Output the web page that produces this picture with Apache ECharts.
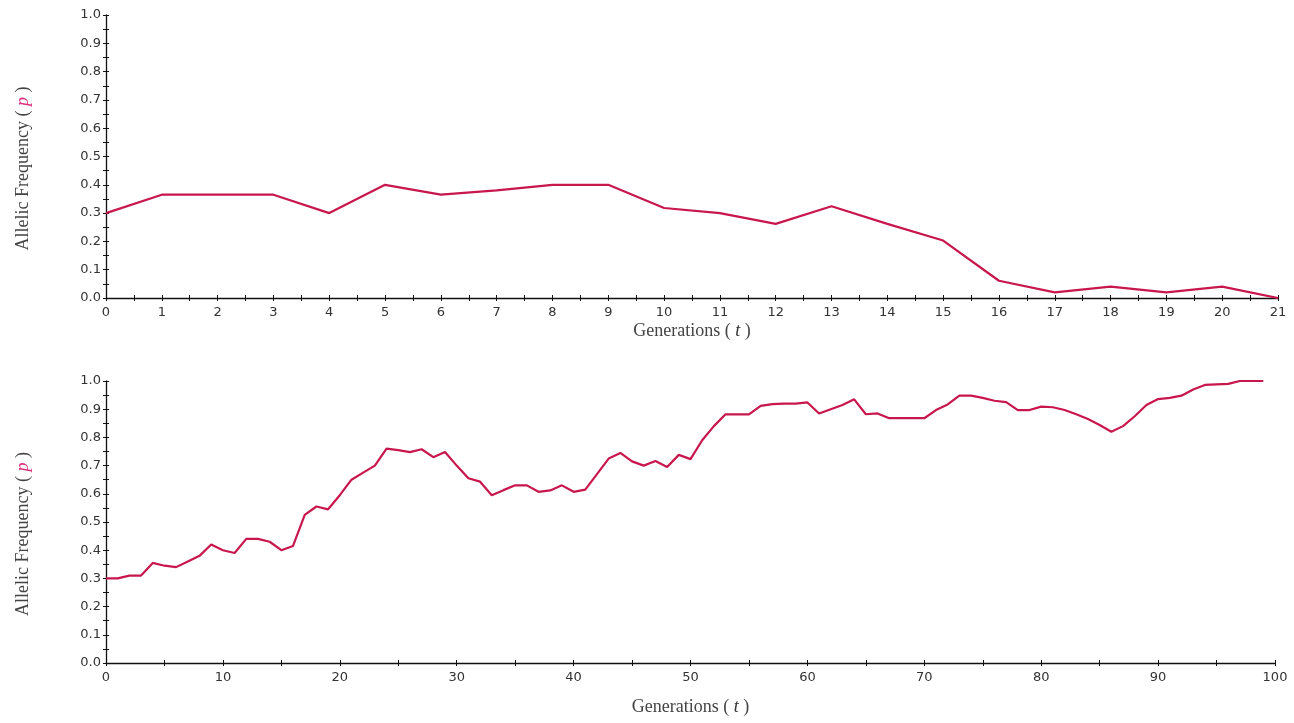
<!DOCTYPE html>
<html>
<head>
<meta charset="utf-8">
<script src="https://cdn.jsdelivr.net/npm/echarts@6/dist/echarts.min.js"></script>
<style>
  html, body { margin: 0; padding: 0; background: #fff; }
  #chart { width: 1294px; height: 723px; }
</style>
</head>
<body>
<div id="chart"></div>
<script>
// run 1: 21 generations
const topGenerations = [0, 1, 2, 3, 4, 5, 6, 7, 8, 9, 10, 11, 12, 13, 14, 15, 16, 17, 18, 19, 20, 21];
const topFreq = [0.30, 0.365, 0.365, 0.365, 0.30, 0.40, 0.365, 0.38, 0.40, 0.40, 0.318,
  0.30, 0.262, 0.324, 0.262, 0.203, 0.061, 0.02, 0.04, 0.02, 0.04, 0.0];

// run 2: 100 generations
const bottomFreq = [
  0.30, 0.30, 0.31, 0.31, 0.355, 0.345, 0.34, 0.36, 0.38, 0.42,
  0.40, 0.39, 0.44, 0.44, 0.43, 0.40, 0.415, 0.525, 0.555, 0.545,
  0.595, 0.65, 0.675, 0.70, 0.76, 0.755, 0.748, 0.758, 0.73, 0.748,
  0.70, 0.655, 0.643, 0.595, 0.613, 0.63, 0.63, 0.607, 0.612, 0.63,
  0.607, 0.615, 0.67, 0.725, 0.745, 0.715, 0.70, 0.716, 0.695, 0.738,
  0.723, 0.79, 0.84, 0.882, 0.882, 0.882, 0.912, 0.918, 0.92, 0.92,
  0.924, 0.885, 0.90, 0.915, 0.935, 0.882, 0.885, 0.868, 0.868, 0.868,
  0.868, 0.897, 0.917, 0.948, 0.948, 0.94, 0.93, 0.925, 0.897, 0.897,
  0.909, 0.907, 0.897, 0.882, 0.865, 0.844, 0.82, 0.84, 0.875, 0.915,
  0.936, 0.94, 0.948, 0.97, 0.986, 0.988, 0.99, 1.0, 1.0, 1.0
];
const bottomGenerations = bottomFreq.map((v, i) => i);

const yName = 'Allelic Frequency ( {p|p} )';
const xName = 'Generations ( {t|t} )';

const chart = echarts.init(document.getElementById('chart'), null, { renderer: 'canvas' });

const tickFont = { color: '#333', fontFamily: 'DejaVu Sans', fontSize: 13 };
const nameFont = {
  color: '#444', fontFamily: 'Liberation Serif', fontSize: 18,
  rich: {
    p: { color: '#d8307a', fontStyle: 'italic', fontFamily: 'Liberation Serif', fontSize: 18 },
    t: { color: '#333', fontStyle: 'italic', fontFamily: 'Liberation Serif', fontSize: 18 }
  }
};
const axisLine = { show: true, onZero: false, lineStyle: { color: '#111', width: 1.3 } };

function xAxes(gridIndex, max, interval, nameGap) {
  const base = {
    type: 'value', gridIndex: gridIndex, min: 0, max: max, interval: interval,
    splitLine: { show: false },
    minorTick: { show: true, splitNumber: 2, length: 3, lineStyle: { color: '#111' } },
    axisTick: { show: true, length: 3, lineStyle: { color: '#111' } }
  };
  return [
    Object.assign({}, base, {
      position: 'bottom',
      axisLine: axisLine,
      axisLabel: Object.assign({ margin: 8 }, tickFont),
      name: xName, nameLocation: 'middle', nameGap: nameGap, nameTextStyle: nameFont
    }),
    Object.assign({}, base, {
      position: 'bottom',
      axisLine: { show: false },
      axisLabel: { show: false },
      axisTick: { show: true, inside: true, length: 3, lineStyle: { color: '#111' } }
    })
  ];
}

function yAxes(gridIndex) {
  const base = {
    type: 'value', gridIndex: gridIndex, min: 0, max: 1, interval: 0.1,
    splitLine: { show: false },
    minorTick: { show: true, splitNumber: 2, length: 3, lineStyle: { color: '#111' } },
    axisTick: { show: true, length: 3, lineStyle: { color: '#111' } }
  };
  return [
    Object.assign({}, base, {
      position: 'left',
      axisLine: axisLine,
      axisLabel: Object.assign({ margin: 5, formatter: v => v.toFixed(1) }, tickFont),
      name: yName, nameLocation: 'middle', nameGap: 74,
      nameTextStyle: Object.assign({ padding: [0, 24, 0, 0] }, nameFont)
    }),
    Object.assign({}, base, {
      position: 'left',
      axisLine: { show: false },
      axisLabel: { show: false },
      axisTick: { show: true, inside: true, length: 3, lineStyle: { color: '#111' } }
    })
  ];
}

const lineStyle = { color: '#c8174c', width: 2.2 };

const option = {
  backgroundColor: '#fff',
  animation: false,
  grid: [
    { left: 106, right: 16, top: 15, height: 283 },
    { left: 106, right: 19, top: 381, height: 282 }
  ],
  xAxis: [].concat(xAxes(0, 21, 1, 24), xAxes(1, 100, 10, 35)),
  yAxis: [].concat(yAxes(0), yAxes(1)),
  series: [
    {
      type: 'line', xAxisIndex: 0, yAxisIndex: 0, showSymbol: false,
      lineStyle: lineStyle,
      data: topGenerations.map((g, i) => [g, topFreq[i]])
    },
    {
      type: 'line', xAxisIndex: 2, yAxisIndex: 2, showSymbol: false,
      lineStyle: lineStyle,
      data: bottomGenerations.map((g, i) => [g, bottomFreq[i]])
    }
  ]
};

chart.setOption(option);
</script>
</body>
</html>
